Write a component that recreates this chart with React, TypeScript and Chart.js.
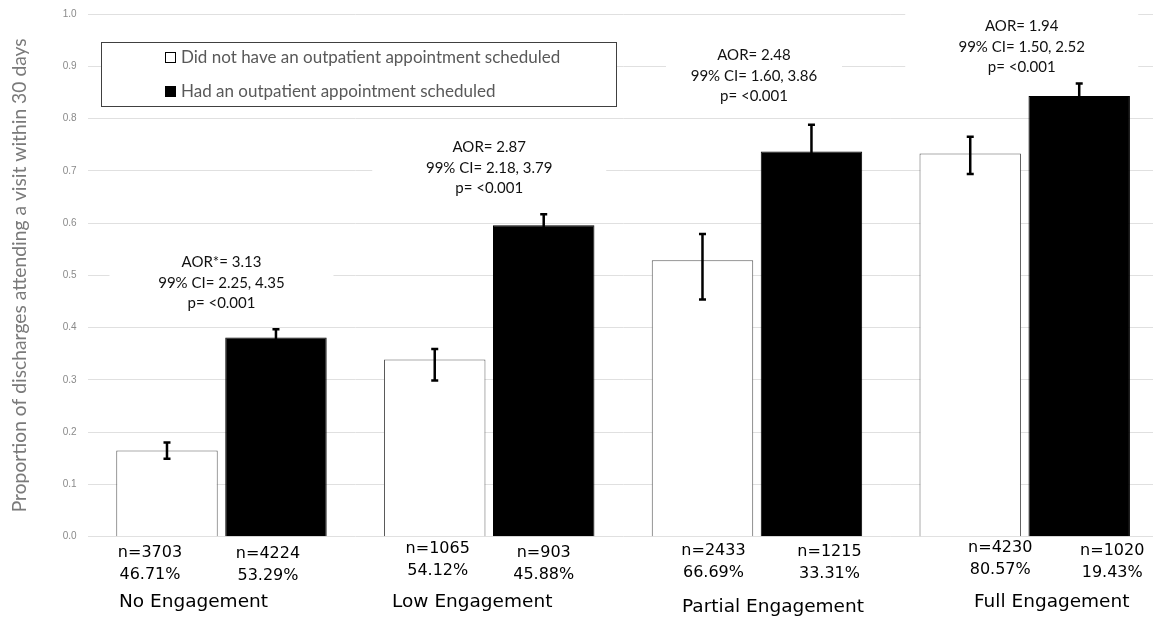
import React, { useEffect, useRef } from "react";
import { Chart, registerables } from "chart.js";

Chart.register(...registerables);

const categories = ["No Engagement", "Low Engagement", "Partial Engagement", "Full Engagement"];
const seriesLabels = [
  "Did not have an outpatient appointment scheduled",
  "Had an outpatient appointment scheduled",
];
const noApptValues = [0.165, 0.339, 0.529, 0.733];
const noApptLower = [0.149, 0.299, 0.454, 0.694];
const noApptUpper = [0.18, 0.359, 0.579, 0.765];
const apptValues = [0.381, 0.596, 0.737, 0.843];
const apptLower = [0.365, 0.575, 0.686, 0.819];
const apptUpper = [0.397, 0.617, 0.788, 0.867];
const noApptN = ["n=3703", "n=1065", "n=2433", "n=4230"];
const noApptPct = ["46.71%", "54.12%", "66.69%", "80.57%"];
const apptN = ["n=4224", "n=903", "n=1215", "n=1020"];
const apptPct = ["53.29%", "45.88%", "33.31%", "19.43%"];
const aorLines = ["AOR*= 3.13", "AOR= 2.87", "AOR= 2.48", "AOR= 1.94"];
const ciLines = ["99% CI= 2.25, 4.35", "99% CI= 2.18, 3.79", "99% CI= 1.60, 3.86", "99% CI= 1.50, 2.52"];
const pLines = ["p= <0.001", "p= <0.001", "p= <0.001", "p= <0.001"];
const yAxisTitle = "Proportion of discharges attending a visit within 30 days";

// layout-only settings for the overlay
const annMidValue = [0.4854, 0.7054, 0.882, 0.9375];
const annBoxWidth = [224, 234, 176, 233];
const annDx = [0, 0, -3, -3];
const nDxWhite = [-17, 3, 11, 30];
const nDxBlack = [-8, 0, 18, 33];
const nDyWhite = [1, -3, -1, -4];
const nDyBlack = [2, 1, 0, -1];
const catDx = [-28, -17, 16, 27];
const catDy = [0, 0, 5, 0];

const overlayPlugin = {
  id: "overlay",
  beforeDatasetsDraw(chart: any) {
    const { ctx } = chart;
    const x = chart.scales.x;
    const y = chart.scales.y;
    ctx.save();
    // legend box
    ctx.fillStyle = "#ffffff";
    ctx.fillRect(101, 42, 516, 65);
    ctx.strokeStyle = "#404040";
    ctx.lineWidth = 1;
    ctx.strokeRect(101.5, 42.5, 515, 64);
    ctx.fillStyle = "#ffffff";
    ctx.fillRect(165, 52, 11, 11);
    ctx.strokeStyle = "#000";
    ctx.strokeRect(165.5, 52.5, 10, 10);
    ctx.fillStyle = "#000";
    ctx.fillRect(165, 86, 11, 11);
    ctx.font = "17px Lato";
    ctx.fillStyle = "#595959";
    ctx.textAlign = "left";
    ctx.textBaseline = "middle";
    ctx.fillText(seriesLabels[0], 181, 57.5);
    ctx.fillText(seriesLabels[1], 181, 91.5);

    // annotation boxes
    for (let i = 0; i < categories.length; i++) {
      const cx = x.getPixelForValue(i) + annDx[i];
      const cy = y.getPixelForValue(annMidValue[i]);
      const w = annBoxWidth[i];
      ctx.fillStyle = "#ffffff";
      ctx.fillRect(cx - w / 2, cy - 35, w, 70);
      ctx.fillStyle = "#111";
      ctx.font = "15px Lato";
      ctx.textAlign = "center";
      ctx.fillText(aorLines[i], cx, cy - 20.5);
      ctx.fillText(ciLines[i], cx, cy);
      ctx.fillText(pLines[i], cx, cy + 20.5);
    }
    ctx.restore();
  },
  afterDatasetsDraw(chart: any) {
    const { ctx } = chart;
    const y = chart.scales.y;
    const sets = [
      [noApptLower, noApptUpper],
      [apptLower, apptUpper],
    ];
    ctx.save();
    ctx.strokeStyle = "#000";
    ctx.lineWidth = 2.5;
    sets.forEach((pair, di) => {
      const meta = chart.getDatasetMeta(di);
      meta.data.forEach((bar: any, i: number) => {
        const bx = bar.x;
        const yl = y.getPixelForValue(pair[0][i]);
        const yu = y.getPixelForValue(pair[1][i]);
        ctx.beginPath();
        ctx.moveTo(bx, yl);
        ctx.lineTo(bx, yu);
        ctx.moveTo(bx - 3.5, yl);
        ctx.lineTo(bx + 3.5, yl);
        ctx.moveTo(bx - 3.5, yu);
        ctx.lineTo(bx + 3.5, yu);
        ctx.stroke();
      });
    });
    ctx.restore();
  },
  afterDraw(chart: any) {
    const { ctx } = chart;
    const x = chart.scales.x;
    const m0 = chart.getDatasetMeta(0);
    const m1 = chart.getDatasetMeta(1);
    ctx.save();
    ctx.fillStyle = "#000";
    ctx.textAlign = "center";
    ctx.textBaseline = "middle";
    ctx.font = "16px 'DejaVu Sans'";
    for (let i = 0; i < categories.length; i++) {
      const wx = m0.data[i].x + nDxWhite[i];
      const bx = m1.data[i].x + nDxBlack[i];
      ctx.fillText(noApptN[i], wx, 552 + nDyWhite[i]);
      ctx.fillText(noApptPct[i], wx, 574 + nDyWhite[i]);
      ctx.fillText(apptN[i], bx, 552 + nDyBlack[i]);
      ctx.fillText(apptPct[i], bx, 574 + nDyBlack[i]);
    }
    ctx.font = "18.5px 'DejaVu Sans'";
    for (let i = 0; i < categories.length; i++) {
      ctx.fillText(categories[i], x.getPixelForValue(i) + catDx[i], 602 + catDy[i]);
    }
    ctx.restore();
  },
};

export default function App() {
  const canvasRef = useRef<HTMLCanvasElement | null>(null);

  useEffect(() => {
    const canvas = canvasRef.current;
    if (!canvas) return;
    const chart = new Chart(canvas, {
      type: "bar",
      data: {
        labels: categories,
        datasets: [
          {
            label: seriesLabels[0],
            data: noApptValues,
            backgroundColor: "#ffffff",
            borderColor: "#595959",
            borderWidth: 1,
          },
          {
            label: seriesLabels[1],
            data: apptValues,
            backgroundColor: "#000000",
            borderColor: "#000000",
            borderWidth: 1,
          },
        ],
      },
      options: {
        responsive: false,
        animation: false,
        devicePixelRatio: 1,
        layout: { padding: { top: 14, bottom: 83.3, left: 0, right: 11.4 } },
        datasets: {
          bar: { categoryPercentage: 0.814, barPercentage: 0.931 },
        },
        plugins: {
          legend: { display: false },
          tooltip: { enabled: false },
        },
        scales: {
          x: {
            display: false,
          },
          y: {
            min: 0,
            max: 1,
            afterFit(scale: any) {
              scale.width = 87.6;
              scale.paddingTop = 0;
              scale.paddingBottom = 0;
            },
            border: { display: false },
            grid: { color: "#e0e0e0", lineWidth: 1, drawTicks: false },
            ticks: {
              stepSize: 0.1,
              padding: 11,
              color: "#8a8a8a",
              font: { family: "'Liberation Sans'", size: 10 },
              callback: (v: any) => Number(v).toFixed(1),
            },
            title: {
              display: true,
              text: yAxisTitle,
              color: "#7a7a7a",
              font: { family: "Lato", size: 19.3 },
              padding: { top: 8, bottom: 0 },
            },
          },
        },
      },
      plugins: [overlayPlugin],
    });
    return () => chart.destroy();
  }, []);

  return (
    <div
      style={{
        position: "fixed",
        left: 0,
        top: 0,
        width: 1153,
        height: 620,
        overflow: "hidden",
        background: "#fff",
      }}
    >
      <canvas ref={canvasRef} width={1170} height={620} style={{ display: "block" }} />
    </div>
  );
}
